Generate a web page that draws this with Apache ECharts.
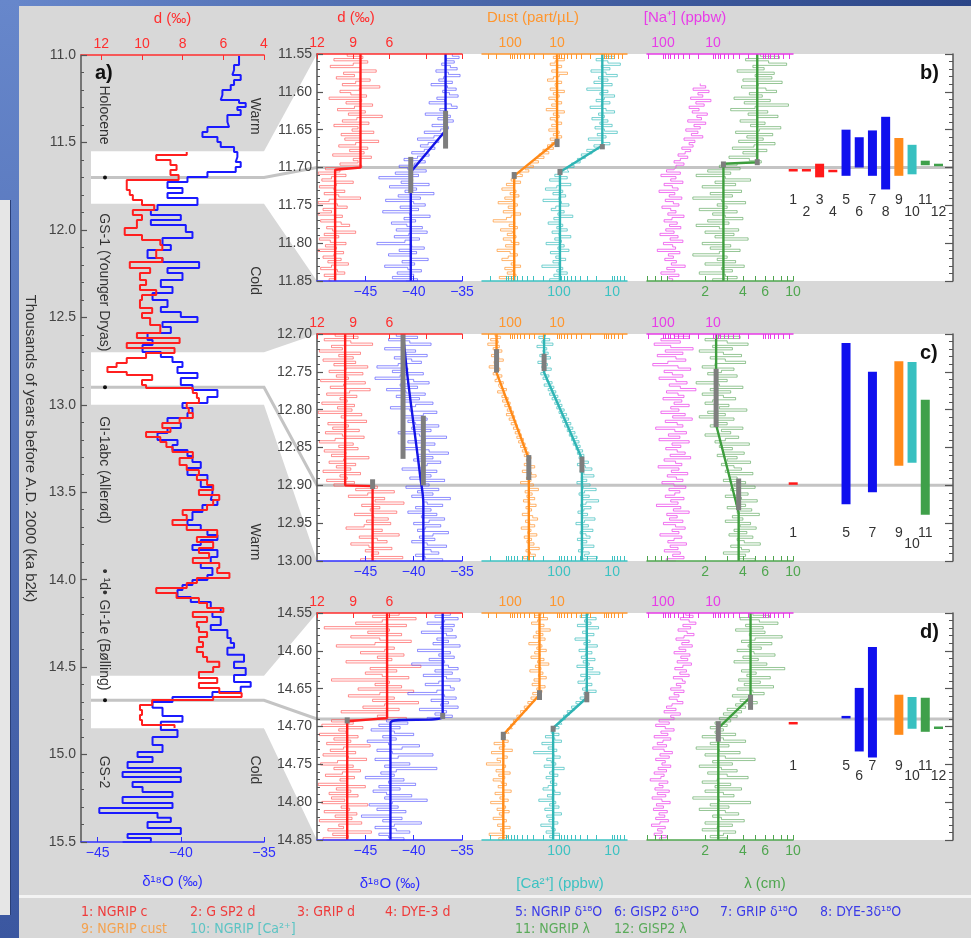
<!DOCTYPE html>
<html>
<head>
<meta charset="utf-8">
<script src="https://cdn.jsdelivr.net/npm/echarts@6/dist/echarts.min.js"></script>
<style>
  body { margin: 0; width: 971px; height: 938px; overflow: hidden; background: #3f5ca6; position: relative; }
  .blk { position: absolute; }
  #top { left: 0; top: 0; width: 971px; height: 6px; background: linear-gradient(90deg, #6787cb, #2b4587); }
  #side { left: 0; top: 0; width: 19px; height: 938px; background: linear-gradient(180deg, #6787cb, #3b57a0); }
  #strip { left: 0; top: 200px; width: 10px; height: 715px; background: #e6e6e6; border-right: 1px solid #2a3f78; }
  #panel { left: 19px; top: 6px; width: 952px; height: 932px; background: #d8d8d8; }
  #sep { left: 19px; top: 895px; width: 952px; height: 3px; background: #f3f3f3; }
  #main { position: absolute; left: 0; top: 0; width: 971px; height: 938px; }
</style>
</head>
<body>
<div class="blk" id="top"></div>
<div class="blk" id="side"></div>
<div class="blk" id="strip"></div>
<div class="blk" id="panel"></div>
<div class="blk" id="sep"></div>
<div id="main"></div>
<script>
// ---- panel a: long records, [ka b2k, value] ----
const aBlue = [[11.006,-36.5],[11.057,-36.8],[11.086,-36.9],[11.114,-36.4],[11.143,-36.8],[11.172,-37.0],[11.2,-37.5],[11.229,-37.6],[11.257,-36.5],[11.274,-36.1],[11.297,-36.6],[11.314,-36.4],[11.343,-37.2],[11.383,-37.1],[11.412,-38.4],[11.44,-38.7],[11.469,-37.8],[11.497,-37.6],[11.526,-36.8],[11.555,-36.6],[11.583,-36.7],[11.612,-36.4],[11.64,-36.7],[11.669,-38.4],[11.698,-39.6],[11.726,-40.8],[11.76,-39.9],[11.789,-40.8],[11.818,-39.0],[11.858,-41.4],[11.886,-41.8],[11.915,-40.0],[11.943,-41.8],[11.972,-39.7],[12.012,-39.3],[12.046,-41.1],[12.086,-40.6],[12.115,-42.0],[12.161,-41.1],[12.184,-38.9],[12.218,-40.8],[12.246,-39.9],[12.286,-41.2],[12.326,-40.5],[12.361,-41.7],[12.401,-40.8],[12.441,-41.2],[12.469,-40.0],[12.498,-39.0],[12.527,-41.1],[12.555,-40.6],[12.589,-42.0],[12.629,-41.7],[12.658,-42.3],[12.698,-41.2],[12.727,-40.5],[12.755,-39.9],[12.784,-40.2],[12.818,-39.0],[12.847,-40.0],[12.887,-39.3],[12.915,-37.8],[12.955,-38.4],[12.99,-39.9],[13.018,-39.3],[13.047,-39.6],[13.075,-40.8],[13.104,-40.0],[13.133,-40.8],[13.161,-41.4],[13.201,-40.2],[13.23,-40.5],[13.258,-39.6],[13.293,-39.3],[13.327,-38.8],[13.361,-39.6],[13.401,-38.4],[13.43,-38.8],[13.47,-38.1],[13.504,-38.2],[13.544,-37.8],[13.573,-38.7],[13.613,-39.3],[13.659,-39.6],[13.687,-38.8],[13.716,-38.4],[13.744,-37.8],[13.773,-38.8],[13.802,-39.3],[13.83,-37.8],[13.87,-38.2],[13.904,-38.8],[13.933,-38.1],[13.973,-38.4],[14.002,-39.3],[14.03,-39.9],[14.059,-40.2],[14.099,-39.4],[14.127,-38.2],[14.162,-37.6],[14.185,-38.1],[14.213,-37.6],[14.259,-38.2],[14.288,-37.2],[14.333,-37.0],[14.362,-36.8],[14.39,-37.2],[14.43,-36.2],[14.47,-36.8],[14.505,-36.1],[14.545,-36.8],[14.585,-35.8],[14.613,-36.4],[14.642,-38.1],[14.671,-40.5],[14.699,-41.7],[14.733,-41.1],[14.779,-39.9],[14.813,-41.2],[14.859,-40.2],[14.899,-41.7],[14.945,-41.1],[14.985,-42.6],[15.014,-41.7],[15.042,-43.2],[15.077,-40.0],[15.1,-43.5],[15.128,-40.0],[15.157,-42.9],[15.185,-42.3],[15.214,-40.5],[15.242,-43.5],[15.277,-40.5],[15.305,-44.9],[15.334,-41.4],[15.362,-40.6],[15.385,-42.0],[15.42,-40.0],[15.454,-43.2],[15.477,-41.8],[15.5,-43.5]];
const aRed = [[11.555,7.8],[11.572,9.3],[11.6,8.6],[11.629,8.3],[11.658,8.6],[11.686,8.2],[11.715,10.75],[11.772,10.6],[11.8,10.45],[11.829,10.0],[11.858,9.4],[11.886,10.45],[11.915,10.0],[11.943,10.25],[11.989,10.85],[12.029,10.0],[12.058,9.1],[12.086,9.0],[12.115,9.3],[12.161,9.0],[12.184,10.6],[12.218,9.6],[12.246,10.1],[12.286,9.8],[12.315,10.1],[12.344,9.3],[12.372,10.0],[12.401,10.1],[12.447,9.5],[12.475,10.0],[12.504,9.6],[12.544,9.1],[12.589,10.25],[12.618,8.15],[12.647,10.75],[12.675,8.4],[12.704,9.8],[12.732,10.75],[12.761,11.25],[12.784,11.7],[12.812,10.75],[12.83,9.5],[12.858,10.0],[12.887,9.8],[12.904,7.5],[12.933,7.3],[12.961,7.2],[12.99,7.8],[13.018,7.7],[13.047,7.5],[13.075,8.15],[13.104,9.0],[13.133,8.6],[13.156,9.8],[13.184,9.1],[13.213,8.8],[13.241,8.5],[13.27,7.5],[13.304,8.15],[13.344,7.8],[13.373,7.2],[13.401,7.3],[13.43,6.8],[13.459,6.5],[13.487,7.2],[13.516,6.2],[13.544,6.5],[13.573,6.8],[13.602,8.0],[13.63,7.8],[13.659,8.5],[13.687,7.8],[13.716,6.3],[13.756,7.3],[13.784,6.5],[13.819,7.2],[13.847,6.7],[13.876,7.5],[13.904,6.2],[13.933,6.3],[13.962,5.7],[13.99,7.3],[14.019,7.8],[14.047,9.3],[14.076,8.3],[14.105,7.2],[14.133,6.8],[14.162,6.0],[14.185,7.5],[14.213,6.8],[14.242,7.3],[14.27,7.2],[14.299,6.8],[14.328,7.2],[14.356,7.0],[14.385,7.3],[14.413,7.0],[14.442,6.8],[14.47,6.2],[14.499,6.5],[14.528,7.2],[14.562,6.3],[14.591,7.2],[14.619,6.2],[14.648,5.1],[14.671,6.5],[14.688,9.5],[14.716,10.1],[14.745,10.0],[14.774,10.1],[14.802,10.0],[14.831,8.4],[14.848,8.4]];

// ---- panels b, c, d: time offsets of the samples from each panel's top ----
const tOff = [0,0.003,0.006,0.009,0.012,0.015,0.018,0.021,0.024,0.027,
  0.03,0.033,0.036,0.039,0.042,0.045,0.048,0.051,0.054,0.057,
  0.06,0.063,0.066,0.069,0.072,0.075,0.078,0.081,0.084,0.087,
  0.09,0.093,0.096,0.099,0.102,0.105,0.108,0.111,0.114,0.117,
  0.12,0.123,0.126,0.129,0.132,0.135,0.138,0.141,0.144,0.147,
  0.15,0.153,0.156,0.159,0.162,0.165,0.168,0.171,0.174,0.177,
  0.18,0.183,0.186,0.189,0.192,0.195,0.198,0.201,0.204,0.207,
  0.21,0.213,0.216,0.219,0.222,0.225,0.228,0.231,0.234,0.237,
  0.24,0.243,0.246,0.249,0.252,0.255,0.258,0.261,0.264,0.267,
  0.27,0.273,0.276,0.279,0.282,0.285,0.288,0.291,0.294,0.297,0.3];
const panelStart = [11.55, 12.70, 14.55];
const panelEnd = [11.85, 13.00, 14.85];
const transT = [11.70, 12.90, 14.69];

// panel b
const bD = [9.5,8.2,10.6,7.8,9.0,10.9,8.4,7.1,9.8,8.9, 10.4,7.6,8.8,9.9,6.8,8.5,10.1,9.2,7.9,11.0, 8.3,9.6,7.4,8.9,10.3,8.0,9.4,6.6,8.7,9.9, 7.7,10.6,8.6,9.1,7.3,10.0,8.4,9.7,6.9,8.8, 10.2,7.8,9.3,8.1,10.7,7.5,9.0,8.6,10.1,8.3,
  11.3,10.1,11.9,9.6,10.8,11.6,9.0,10.4,11.8,10.6, 9.7,11.4,10.2,8.4,11.0,11.9,10.3,9.5,11.5,10.8, 11.9,9.9,10.5,11.7,10.0,9.3,11.2,10.7,8.8,11.4, 10.2,11.8,10.9,9.6,11.3,10.4,11.9,9.8,10.6,11.5, 10.0,11.1,9.4,10.8,11.7,10.3,9.7,11.4,10.5,11.0, 10.8];
const bO = [-36.0,-35.3,-36.6,-35.8,-37.1,-36.2,-35.5,-37.7,-36.4,-35.2, -36.9,-37.4,-36.0,-38.2,-36.5,-35.6,-37.0,-36.3,-35.4,-37.6, -36.8,-38.4,-36.1,-35.5,-37.3,-36.6,-38.8,-36.2,-37.5,-35.9, -36.9,-38.1,-36.4,-37.2,-38.9,-36.8,-37.9,-39.6,-37.4,-38.5, -39.3,-37.8,-38.9,-40.2,-38.4,-39.6,-41.0,-38.8,-39.9,-41.5,
  -40.6,-38.7,-41.9,-39.5,-43.6,-40.1,-41.3,-38.4,-42.5,-39.7, -40.9,-37.9,-41.6,-39.3,-42.9,-40.0,-38.8,-41.4,-39.5,-43.2, -40.4,-38.3,-41.0,-39.8,-42.3,-40.7,-39.1,-41.8,-38.6,-40.5, -42.0,-39.4,-40.9,-43.8,-40.2,-38.9,-41.5,-39.7,-42.6,-40.3, -38.5,-41.2,-39.9,-43.0,-40.6,-39.2,-41.7,-40.0,-42.2,-39.6, -40.8];
const bDust = [9,12,7,11,14,8,10,13,6,9, 12,16,8,11,10,14,7,12,9,15, 11,8,13,10,17,7,12,9,14,11, 8,13,10,15,9,12,8,14,11,13, 16,12,20,15,24,19,30,25,38,32,
  48,40,62,55,75,95,60,120,85,150, 75,100,65,130,90,180,70,110,85,140, 60,95,120,230,80,105,70,160,90,115, 75,140,95,65,125,85,190,100,70,110, 150,80,95,60,130,90,115,75,170,85, 100];
const bCa = [14,9,20,12,7,16,11,25,13,8, 18,12,22,10,15,30,12,17,9,14, 20,11,16,26,13,9,18,14,24,12, 17,10,21,14,8,19,13,28,15,11, 22,18,30,24,38,32,45,40,58,52,
  70,65,88,120,70,150,95,60,110,180, 85,130,75,100,200,90,65,115,140,80, 105,55,125,95,160,85,110,70,135,100, 60,120,90,175,80,105,65,145,95,115, 75,130,100,210,85,110,70,125,90,150, 95];
const bNa = [null,null,null,null,null,null,null,null,null,null, null,null,null,18,14,25,12,20,16,28, 11,22,15,30,19,26,13,21,17,32, 14,24,18,35,20,27,16,38,23,30, 25,42,28,36,50,32,45,60,38,55,
  60,85,45,110,55,70,40,95,65,50, 120,58,75,42,90,62,48,105,70,55, 80,38,66,95,52,74,44,88,60,115, 50,72,40,98,64,56,130,46,78,62, 92,54,68,36,84,58,110,48,76,64, 70];
const bLam = [5.5,7.8,4.2,6.4,8.9,4.8,5.9,3.6,7.1,5.0, 6.8,4.0,8.2,5.3,3.9,6.1,7.4,4.5,5.7,3.4, 6.6,4.1,9.2,5.0,3.2,6.3,4.4,7.6,5.2,3.8, 6.0,4.6,8.0,5.4,3.5,6.9,4.3,5.8,3.7,7.2, 4.9,3.3,6.2,4.0,5.1,3.1,4.5,5.6,3.6,2.6,
  3.8,2.1,3.2,1.7,2.9,4.6,2.4,3.5,1.9,2.8, 3.9,2.2,3.3,1.6,2.7,4.2,2.5,3.0,1.8,3.6, 2.3,2.9,4.0,2.1,3.1,1.7,2.6,3.7,2.0,3.4, 2.4,4.4,2.8,1.9,3.2,2.2,3.8,2.6,1.6,3.0, 2.5,3.5,2.0,4.1,2.7,3.3,1.8,2.9,3.6,2.3, 2.8];
// panel c
const cD = [10.5,8.6,11.4,9.2,7.4,10.8,9.9,11.8,8.4,10.2, 9.0,11.5,8.8,10.6,7.8,9.6,11.0,8.2,10.4,9.4, 11.7,8.0,9.8,10.9,7.6,9.3,11.2,8.7,10.1,9.5, 11.6,8.9,10.3,9.1,11.9,8.3,10.0,9.7,7.9,11.1, 9.4,10.7,8.5,11.3,9.9,8.1,10.5,11.8,9.0,10.2,
  8.6,11.4,9.6,10.8,7.7,9.8,11.0,8.8,10.4,9.2, 11.5,8.4,10.1,9.5,11.2,8.9,10.6,7.0,8.8,5.6, 7.8,9.4,6.4,7.2,4.8,8.3,6.8,7.6,5.4,8.9, 7.3,6.1,7.9,5.9,8.1,9.6,6.6,7.4,5.2,8.5, 7.0,6.2,9.2,7.7,5.8,8.0,6.9,7.5,4.9,8.4, 7.1];
const cO = [-41.8,-39.6,-42.6,-40.4,-38.2,-41.2,-43.0,-39.8,-40.8,-38.6, -42.0,-40.2,-39.2,-41.6,-43.8,-40.6,-42.2,-39.0,-41.4,-44.0, -40.0,-38.4,-41.4,-39.6,-42.8,-40.8,-38.8,-41.8,-39.4,-41.0, -38.0,-39.8,-42.4,-40.4,-37.6,-39.0,-41.2,-38.6,-40.6,-39.8, -37.4,-40.2,-38.2,-41.6,-39.4,-36.6,-38.8,-40.6,-37.8,-39.2,
  -41.0,-38.4,-36.4,-39.6,-38.0,-40.0,-37.2,-38.6,-39.2,-41.2, -37.6,-39.4,-38.2,-40.4,-36.8,-39.0,-38.4,-40.8,-37.4,-39.6, -38.0,-40.2,-36.2,-39.0,-38.6,-37.0,-39.8,-38.2,-40.6,-37.6, -39.2,-36.8,-38.4,-40.0,-37.2,-38.8,-39.6,-36.4,-38.0,-39.4, -37.8,-40.2,-38.6,-36.6,-39.0,-38.2,-37.4,-39.8,-38.8,-37.0, -38.6];
const cDust = [210,160,260,180,300,170,230,150,200,250, 175,140,220,190,280,165,205,230,150,190, 210,140,175,160,120,185,135,150,110,145, 100,130,95,115,85,120,80,105,75,95, 70,85,62,78,58,72,52,66,48,60,
  44,55,40,50,36,45,38,50,30,42, 55,35,28,45,36,60,32,40,25,48, 34,44,30,52,38,28,46,35,41,55, 33,26,47,38,30,58,36,42,27,50, 35,44,31,39,24,46,37,29,52,40, 36];
const cCa = [180,240,150,210,130,260,170,200,160,230, 145,195,250,165,210,140,185,220,155,200, 170,135,190,125,160,115,150,105,135,95, 120,88,110,80,100,72,92,66,85,60, 78,55,70,50,64,46,58,42,54,40,
  48,36,45,34,42,36,28,45,32,24, 40,34,22,38,30,46,26,35,20,33, 42,27,36,18,31,39,25,34,44,29, 37,21,33,48,28,36,23,40,31,26, 45,30,38,22,35,43,27,33,19,36, 32];
const cNa = [60,30,110,45,150,70,25,90,40,130, 55,35,80,160,50,28,95,65,40,120, 55,33,75,45,22,85,50,38,100,42, 60,30,70,48,110,36,64,26,90,52, 40,140,58,34,78,46,120,30,66,44,
  88,52,36,72,28,95,56,42,125,48, 68,32,82,54,40,105,60,35,76,46, 58,90,38,70,50,135,44,62,30,84, 52,74,40,98,56,36,66,48,115,42, 60,80,34,72,50,94,45,64,38,86, 55];
const cLam = [2.6,3.8,2.0,3.0,4.4,2.3,3.3,1.8,2.8,3.9, 2.2,2.9,4.2,2.4,1.9,3.4,2.7,2.1,3.6,2.5, 3.0,1.7,2.6,4.0,2.2,3.2,1.9,2.8,3.5,2.3, 2.0,3.1,2.6,4.3,2.1,2.9,1.8,3.4,2.5,3.0, 2.2,4.0,2.7,3.2,2.0,3.7,2.9,2.4,4.5,2.6,
  3.3,2.8,4.1,2.5,3.6,3.0,4.6,2.7,3.4,3.9, 2.9,4.8,3.1,3.6,2.8,4.2,3.4,5.0,3.2,3.8, 4.4,2.9,3.9,5.2,3.5,4.2,3.0,4.7,3.6,5.4, 3.3,4.0,2.9,4.6,3.8,5.1,3.4,4.3,3.1,4.8, 3.6,4.1,5.5,3.2,3.9,4.5,2.8,4.2,3.7,5.0, 4.3];
// panel d
const dD = [5.2,7.4,3.8,6.6,8.8,4.6,11.4,6.0,7.8,5.0, 9.2,6.8,4.2,7.2,10.4,5.6,6.4,8.4,4.8,7.0, 5.8,9.6,6.2,3.4,7.6,5.4,8.0,6.6,4.4,10.8, 6.0,7.2,5.0,8.6,4.0,6.8,9.4,5.6,7.4,3.6, 6.4,8.2,5.2,10.0,6.2,7.0,4.6,10.8,9.0,11.6,
  8.2,10.2,9.6,11.8,8.6,10.6,9.2,11.2,7.6,9.8, 10.9,8.8,11.5,9.4,7.9,10.3,11.7,9.0,10.6,8.4, 9.9,11.3,8.9,10.1,9.5,11.9,8.0,10.4,9.2,11.0, 8.6,10.8,9.7,11.6,7.8,10.0,9.3,11.4,8.7,10.5, 9.1,11.8,8.3,10.2,9.8,11.1,7.5,10.7,9.4,11.5, 9.6];
const dO = [-36.2,-37.8,-35.4,-36.8,-38.6,-35.8,-37.2,-36.0,-39.2,-36.6, -35.6,-37.6,-36.4,-38.0,-35.2,-37.0,-39.6,-36.2,-37.4,-35.8, -38.4,-36.8,-40.2,-36.4,-35.4,-37.8,-36.0,-39.0,-36.6,-35.2, -37.4,-38.8,-36.2,-35.8,-37.6,-40.6,-36.8,-35.6,-38.2,-36.4, -37.2,-35.4,-39.4,-36.6,-37.8,-36.0,-38.6,-42.8,-40.6,-43.6,
  -41.4,-44.4,-42.0,-40.0,-43.2,-41.8,-44.8,-42.6,-39.4,-41.2, -43.8,-42.2,-38.0,-41.6,-44.0,-42.4,-40.4,-43.0,-37.6,-41.8, -43.4,-42.0,-45.0,-41.0,-42.6,-39.8,-43.6,-41.4,-44.2,-42.8, -40.2,-43.0,-38.6,-42.2,-44.6,-41.6,-43.8,-40.8,-42.4,-45.4, -41.2,-43.2,-39.2,-42.0,-44.0,-41.8,-40.4,-43.6,-42.6,-41.0, -42.8];
const dDust = [22,30,16,26,35,19,24,14,28,20, 32,18,25,40,21,27,17,30,23,36, 19,26,15,29,22,38,20,25,17,31, 24,34,18,27,21,33,26,36,30,42, 38,50,44,60,55,72,64,85,78,98,
  90,115,105,130,125,150,110,220,130,170, 90,250,140,115,190,160,320,125,145,200, 100,175,130,230,155,120,180,140,95,210, 135,165,110,260,145,125,190,105,170,150, 230,120,140,185,100,160,135,280,115,175, 145];
const dCa = [28,40,20,33,25,45,18,30,36,22, 29,50,26,34,19,31,42,24,32,38, 21,35,27,46,23,30,17,39,26,33, 44,24,31,36,20,34,28,40,34,48, 44,58,52,70,64,82,76,95,88,110,
  100,125,140,100,180,120,90,210,130,160, 110,300,125,95,170,140,115,190,80,135, 150,105,175,125,145,110,160,200,120,95, 165,135,240,115,150,100,185,130,90,170, 125,155,105,220,140,118,175,98,150,132, 145];
const dNa = [35,25,45,30,22,40,28,50,33,24, 38,55,30,42,26,48,35,60,29,44, 32,52,27,40,58,34,46,30,62,41, 36,54,44,70,38,60,48,75,52,40, 66,85,55,95,45,70,60,120,75,140,
  90,60,110,80,150,70,100,130,85,160, 95,65,115,75,140,90,105,70,125,85, 150,95,110,180,80,120,100,145,75,130, 88,165,105,72,135,98,155,82,120,92, 140,78,115,170,90,128,104,150,86,118, 100];
const dLam = [4.8,6.5,3.8,5.4,7.6,4.2,5.8,3.5,6.0,4.5, 8.2,5.0,3.9,6.8,4.4,5.6,3.6,4.9,7.2,4.0, 5.3,3.4,6.2,4.6,8.6,3.9,5.1,4.3,6.6,3.7, 5.5,4.1,7.0,3.6,4.8,5.9,3.3,4.6,3.8,5.2, 3.5,4.2,3.0,3.9,2.8,3.6,2.6,3.2,2.4,3.0,
  2.2,2.8,2.4,3.5,1.9,2.8,4.2,2.2,3.1,1.7, 2.6,3.8,2.0,2.9,5.0,2.3,3.3,1.8,2.7,3.6, 2.1,3.0,4.4,2.5,1.9,3.2,2.4,3.9,2.0,2.8, 3.4,1.6,2.6,4.6,2.2,3.1,1.8,2.9,3.7,2.3, 2.7,4.1,2.0,3.3,2.5,1.9,3.5,2.8,2.2,3.0, 2.5];

// ramp fits, [value, ka b2k]
const bRampD = [[8.4,11.55],[8.4,11.700],[10.5,11.703],[10.5,11.85]];
const bRampO = [[-36.7,11.55],[-36.7,11.651],[-40.3,11.706],[-40.3,11.85]];
const bRampDust = [[10,11.55],[10,11.665],[82,11.711],[82,11.85]];
const bRampCa = [[15.3,11.55],[15.3,11.671],[96,11.706],[96,11.85]];
const bRampLam = [[5.2,11.55],[5.2,11.693],[2.8,11.695],[2.8,11.85]];
const cRampD = [[9.67,12.70],[9.67,12.90],[7.4,12.901],[7.4,13.00]];
const cRampO = [[-41.1,12.70],[-40.6,12.76],[-39.9,12.83],[-39.3,12.89],[-39.0,12.925],[-39.0,13.00]];
const cRampDust = [[195,12.70],[195,12.751],[40,12.865],[40,13.00]];
const cRampCa = [[191,12.70],[191,12.751],[37,12.865],[37,13.00]];
const cRampLam = [[2.45,12.70],[2.45,12.82],[3.7,12.936],[3.7,13.00]];
const dRampD = [[6.2,14.55],[6.2,14.689],[9.5,14.693],[9.5,14.85]];
const dRampO = [[-37.0,14.55],[-37.0,14.687],[-42.4,14.695],[-42.4,14.85]];
const dRampDust = [[23.7,14.55],[23.7,14.658],[140,14.711],[140,14.85]];
const dRampCa = [[30,14.55],[30,14.662],[129,14.702],[129,14.85]];
const dRampLam = [[4.6,14.55],[4.6,14.661],[2.55,14.702],[2.55,14.85]];

// uncertainty boxes at the ramp corners: [record, value, from, to]
const bBoxes = [['o',-36.7,11.625,11.675],['o',-40.3,11.686,11.734],['dust',10,11.662,11.673],['dust',82,11.706,11.715],['ca',15.3,11.669,11.676],['ca',96,11.702,11.71],['lam',5.2,11.689,11.697],['lam',2.8,11.692,11.700]];
const cBoxes = [['o',-41.1,12.70,12.865],['o',-39.0,12.808,12.90],['d',7.4,12.892,12.905],['dust',195,12.72,12.751],['dust',40,12.86,12.893],['ca',191,12.726,12.749],['ca',37,12.862,12.883],['lam',2.45,12.746,12.823],['lam',3.7,12.891,12.933]];
const dBoxes = [['d',9.5,14.688,14.696],['o',-37.0,14.682,14.690],['dust',23.7,14.652,14.665],['dust',140,14.707,14.718],['ca',30,14.654,14.668],['ca',129,14.699,14.707],['lam',4.6,14.658,14.678],['lam',2.55,14.693,14.72]];

// transition duration bars, by record number 1..12
const bBarIdx = [1,2,3,4,5,6,7,8,9,10,11,12];
const bBarT1 = [11.702,11.702,11.695,11.703,11.650,11.660,11.651,11.633,11.661,11.670,11.691,11.695];
const bBarT2 = [11.704,11.704,11.713,11.705,11.711,11.700,11.711,11.729,11.711,11.709,11.697,11.696];
const cBarIdx = [1,5,7,9,10,11];
const cBarT1 = [12.896,12.712,12.750,12.736,12.737,12.787];
const cBarT2 = [12.899,12.925,12.909,12.874,12.870,12.939];
const dBarIdx = [1,5,6,7,9,10,11,12];
const dBarT1 = [14.694,14.686,14.649,14.595,14.658,14.661,14.662,14.700];
const dBarT2 = [14.696,14.688,14.733,14.741,14.711,14.703,14.707,14.702];
const barLabelT = [[11.743,11.759],[12.963,12.978],[14.753,14.766]];

// labels
const periodNames = ['Holocene','GS-1 (Younger Dryas)','GI-1abc (Allerød)','• ¹d•','GI-1e (Bølling)','GS-2'];
const periodT = [11.343,12.30,13.373,14.013,14.373,15.10];
const climNames = ['Warm','Cold','Warm','Cold'];
const climT = [11.35,12.29,13.784,15.088];
const legendNames = ['1: NGRIP c','2: G SP2 d','3: GRIP d','4: DYE-3 d','5: NGRIP δ¹⁸O','6: GISP2 δ¹⁸O','7: GRIP δ¹⁸O','8: DYE-3δ¹⁸O','9: NGRIP cust','10: NGRIP [Ca²⁺]','11: NGRIP λ','12: GISP2 λ'];

const FONT = "'Liberation Sans', Arial, sans-serif";
const NARROW = "'Liberation Sans Narrow', 'DejaVu Sans Condensed', 'Liberation Sans', sans-serif";
const RED = '#ff2e2e', BLUE = '#2f2fff', ORANGE = '#ff962e', CYAN = '#3cc2c2', MAG = '#e83ce8', GREEN = '#4fa64f';
const traceCol = {d: 'rgba(255,70,70,0.6)', o: 'rgba(70,70,255,0.6)', dust: 'rgba(255,150,50,0.7)', ca: 'rgba(60,190,190,0.7)', na: 'rgba(235,70,235,0.75)', lam: 'rgba(80,160,80,0.6)'};
const rampCol = {d: '#ff1c1c', o: '#1414e6', dust: '#ff8a18', ca: '#2fb4b4', lam: '#3d9d3d'};
const isLog = {dust: true, ca: true, na: true, lam: true};
const barCol = ['#ff1a1a','#ff1a1a','#ff1a1a','#ff1a1a','#1010ee','#1010ee','#1010ee','#1010ee','#ff8a1a','#38c0c0','#3fa04a','#3fa04a'];

const panels = [
  {tr: {d: bD, o: bO, dust: bDust, ca: bCa, na: bNa, lam: bLam}, ramp: {d: bRampD, o: bRampO, dust: bRampDust, ca: bRampCa, lam: bRampLam}, boxes: bBoxes, bars: [bBarIdx, bBarT1, bBarT2], top: 54, smoothO: false},
  {tr: {d: cD, o: cO, dust: cDust, ca: cCa, na: cNa, lam: cLam}, ramp: {d: cRampD, o: cRampO, dust: cRampDust, ca: cRampCa, lam: cRampLam}, boxes: cBoxes, bars: [cBarIdx, cBarT1, cBarT2], top: 334, smoothO: true},
  {tr: {d: dD, o: dO, dust: dDust, ca: dCa, na: dNa, lam: dLam}, ramp: {d: dRampD, o: dRampO, dust: dRampDust, ca: dRampCa, lam: dRampLam}, boxes: dBoxes, bars: [dBarIdx, dBarT1, dBarT2], top: 613, smoothO: true}
];

const grid = [], xAxis = [], yAxis = [], series = [];
function addGrid(left, top, width, height) { grid.push({left, top, width, height, containLabel: false, outerBoundsMode: 'none'}); return grid.length - 1; }
function addX(o) { xAxis.push(o); return xAxis.length - 1; }
function addY(o) { yAxis.push(o); return yAxis.length - 1; }
function xf(key, v) { return isLog[key] ? Math.log10(v) : v; }
function logTicks(lo, hi) {
  const out = [];
  for (let n = -2; n <= 4; n++) for (let k = 1; k <= 9; k++) {
    const v = Math.log10(k * Math.pow(10, n));
    if (v >= lo - 1e-9 && v <= hi + 1e-9) out.push(v);
  }
  return out;
}
const minus = v => String(v).replace('-', '\u2212');
const pow10 = v => String(Math.round(Math.pow(10, v)));
function valAxis(gridIndex, position, min, max, inverse, color, ticks, labels, fmt) {
  return {
    type: 'value', gridIndex, position, min, max, inverse, z: 6,
    axisLine: {show: true, onZero: false, lineStyle: {color, width: 1.5}},
    axisTick: {show: true, inside: true, length: 5, customValues: ticks, lineStyle: {color, width: 1}},
    axisLabel: {show: true, customValues: labels, formatter: fmt, color, fontSize: 14, fontFamily: FONT, margin: 4},
    splitLine: {show: false}
  };
}
function timeAxis(gridIndex, min, max, interval, position, labels, fmt, tickLen) {
  return {
    type: 'value', gridIndex, min, max, interval, inverse: true, position, z: 6,
    axisLine: {show: true, onZero: false, lineStyle: {color: '#555', width: 1.5}},
    axisTick: {show: true, inside: true, length: tickLen, lineStyle: {color: '#555', width: 1.2}},
    minorTick: {show: true, splitNumber: 5, length: tickLen / 2, lineStyle: {color: '#555', width: 1}},
    axisLabel: {show: labels, formatter: fmt, color: '#444', fontSize: 14, fontFamily: FONT, margin: 5},
    splitLine: {show: false}, minorSplitLine: {show: false}
  };
}

// ---- panel a ----
const gA = addGrid(81, 55, 183, 787);
const yA = addY(Object.assign(timeAxis(gA, 11, 15.5, 0.5, 'left', true, v => v.toFixed(1), 6), {
  name: 'Thousands of years before A.D. 2000 (ka b2k)', nameLocation: 'middle', nameRotate: -90, nameGap: 43,
  nameTextStyle: {fontSize: 15, color: '#333', fontFamily: FONT}
}));
const xAd = addX(Object.assign(valAxis(gA, 'top', 4, 13, true, RED, [4,6,8,10,12], [4,6,8,10,12], v => String(v)), {
  name: 'd (‰)', nameLocation: 'middle', nameGap: 29, nameTextStyle: {color: RED, fontSize: 15, fontFamily: FONT}
}));
const xAo = addX(Object.assign(valAxis(gA, 'bottom', -46, -35, false, BLUE, [-45,-40,-35], [-45,-40,-35], minus), {
  name: 'δ¹⁸O (‰)', nameLocation: 'middle', nameGap: 32, nameTextStyle: {color: BLUE, fontSize: 15, fontFamily: FONT}
}));
series.push({type: 'line', xAxisIndex: xAo, yAxisIndex: yA, data: aBlue.map(p => [p[1], p[0]]), step: 'start', showSymbol: false, symbol: 'none', lineStyle: {color: '#1a1aff', width: 2}, z: 3});
series.push({type: 'line', xAxisIndex: xAd, yAxisIndex: yA, data: aRed.map(p => [p[1], p[0]]), step: 'start', showSymbol: false, symbol: 'none', lineStyle: {color: '#ff1f1f', width: 2}, z: 4});

// ---- panels b, c, d ----
const colLeft = [317, 482, 647], colW = [145, 145, 146];
const panelY = [];
panels.forEach((P, p) => {
  const s = panelStart[p], e = panelEnd[p];
  const g = colLeft.map((l, c) => addGrid(l, P.top, colW[c], 227));
  const yi = g.map((gi, c) => c === 0
    ? addY(timeAxis(gi, s, e, 0.05, 'left', true, v => v.toFixed(2), 6))
    : addY({type: 'value', gridIndex: gi, min: s, max: e, inverse: true, show: false}));
  panelY.push(yi[0]);
  const gb = addGrid(780, P.top, 173, 227);
  const yb = addY(timeAxis(gb, s, e, 0.05, 'right', false, v => v, 8));
  const xb = addX({type: 'value', gridIndex: gb, min: 0, max: 13.1, show: false});
  const ax = {
    d: addX(valAxis(g[0], 'top', 0, 12, true, RED, [12,9,6,3,0], [12,9,6], v => String(v))),
    o: addX(valAxis(g[0], 'bottom', -50, -35, false, BLUE, [-45,-40,-35], [-45,-40,-35], minus)),
    dust: addX(valAxis(g[1], 'top', -0.49, 2.6, true, ORANGE, logTicks(-0.49, 2.6), [2,1], pow10)),
    ca: addX(valAxis(g[1], 'bottom', 0.72, 3.45, true, CYAN, logTicks(0.72, 3.45), [2,1], pow10)),
    na: addX(valAxis(g[2], 'top', -0.6, 2.32, true, MAG, logTicks(-0.6, 2.32), [2,1], pow10)),
    lam: addX(valAxis(g[2], 'bottom', -0.16, 1.0, false, GREEN, logTicks(-0.16, 1.0), [Math.log10(2), Math.log10(4), Math.log10(6), 1], pow10))
  };
  const col = {d: 0, o: 0, dust: 1, ca: 1, na: 2, lam: 2};
  // thin records
  Object.keys(P.tr).forEach(k => {
    const vals = P.tr[k], data = [];
    for (let i = 0; i < Math.min(vals.length, tOff.length); i++) {
      if (vals[i] != null) data.push([xf(k, vals[i]), s + tOff[i]]);
    }
    series.push({type: 'line', xAxisIndex: ax[k], yAxisIndex: yi[col[k]], data, step: 'start', showSymbol: false, symbol: 'none',
      lineStyle: {color: traceCol[k], width: 1}, z: 2});
  });
  // ramp fits
  Object.keys(P.ramp).forEach(k => {
    series.push({type: 'line', xAxisIndex: ax[k], yAxisIndex: yi[col[k]], data: P.ramp[k].map(q => [xf(k, q[0]), q[1]]),
      smooth: (k === 'o' && P.smoothO) ? 0.4 : false, showSymbol: false, symbol: 'none',
      lineStyle: {color: rampCol[k], width: 2.4}, z: 4});
  });
  // uncertainty boxes
  P.boxes.forEach(b => {
    const k = b[0];
    series.push({type: 'custom', xAxisIndex: ax[k], yAxisIndex: yi[col[k]], data: [[xf(k, b[1]), b[2], b[3]]], z: 5,
      renderItem: (params, api) => {
        const p1 = api.coord([api.value(0), api.value(1)]), p2 = api.coord([api.value(0), api.value(2)]);
        const y0 = Math.min(p1[1], p2[1]), h = Math.max(Math.abs(p2[1] - p1[1]), 4);
        return {type: 'rect', shape: {x: p1[0] - 2.5, y: y0, width: 5, height: h}, style: {fill: '#7e7e7e'}};
      }});
  });
  // transition bars
  const [bi, b1, b2] = P.bars;
  series.push({type: 'custom', xAxisIndex: xb, yAxisIndex: yb, data: bi.map((n, i) => [n, b1[i], b2[i]]), z: 5,
    renderItem: (params, api) => {
      const n = api.value(0);
      const p1 = api.coord([n, api.value(1)]), p2 = api.coord([n, api.value(2)]);
      const h = Math.max(Math.abs(p2[1] - p1[1]), 2.5);
      return {type: 'rect', shape: {x: p1[0] - 4.5, y: Math.min(p1[1], p2[1]), width: 9, height: h}, style: {fill: barCol[n - 1]}};
    }});
  series.push({type: 'custom', xAxisIndex: xb, yAxisIndex: yb, data: bi.map(n => [n, barLabelT[p][(n + 1) % 2]]), z: 5,
    renderItem: (params, api) => {
      const pt = api.coord([api.value(0), api.value(1)]);
      return {type: 'text', x: pt[0], y: pt[1], style: {text: String(api.value(0)), fill: '#333', font: '14px ' + FONT, align: 'center', verticalAlign: 'middle'}};
    }});
});

const chart = echarts.init(document.getElementById('main'), null, {renderer: 'canvas', width: 971, height: 938});
chart.setOption({animation: false, backgroundColor: 'transparent', grid, xAxis, yAxis, series});

// ---- decorations tied to the time axes ----
const ya = t => chart.convertToPixel({yAxisIndex: yA}, t);
const yp = (p, t) => chart.convertToPixel({yAxisIndex: panelY[p]}, t);
const gfx = [];
const bandL = 91, bandR = 264, panL = 317, panR = 953;
for (let p = 0; p < 3; p++) {
  const a1 = ya(panelStart[p]), a2 = ya(panelEnd[p]);
  const p1 = yp(p, panelStart[p]), p2 = yp(p, panelEnd[p]);
  gfx.push({type: 'rect', z: -5, silent: true, shape: {x: bandL, y: a1, width: bandR - bandL, height: a2 - a1}, style: {fill: '#fff'}});
  gfx.push({type: 'polygon', z: -5, silent: true, shape: {points: [[bandR, a1], [panL, p1], [panL, p2], [bandR, a2]]}, style: {fill: '#fff'}});
  gfx.push({type: 'rect', z: -5, silent: true, shape: {x: panL, y: p1, width: panR - panL, height: p2 - p1}, style: {fill: '#fff'}});
  const at = ya(transT[p]), pt = yp(p, transT[p]);
  gfx.push({type: 'polyline', z: 1, silent: true, shape: {points: [[bandL, at], [bandR, at], [panL, pt], [panR, pt]]}, style: {stroke: '#c4c4c4', lineWidth: 3, fill: null}});
  gfx.push({type: 'circle', z: 10, silent: true, shape: {cx: 105, cy: at, r: 2}, style: {fill: '#111'}});
}
const txt = (text, x, y, color, size, opt) => Object.assign({type: 'text', z: 10, silent: true, x, y,
  style: {text, fill: color, font: size + 'px ' + FONT, align: 'center', verticalAlign: 'middle'}}, opt || {});
periodNames.forEach((n, i) => gfx.push(txt(n, 104, ya(periodT[i]), '#333', 14, {rotation: -Math.PI / 2})));
climNames.forEach((n, i) => gfx.push(txt(n, 255, ya(climT[i]), '#333', 14, {rotation: -Math.PI / 2})));
gfx.push({type: 'text', z: 10, x: 95, y: 73, style: {text: 'a)', fill: '#111', font: 'bold 20px ' + FONT, verticalAlign: 'middle'}});
['b)', 'c)', 'd)'].forEach((l, p) => gfx.push({type: 'text', z: 10, x: 920, y: panels[p].top + 19, style: {text: l, fill: '#111', font: 'bold 20px ' + FONT, verticalAlign: 'middle'}}));
gfx.push(txt('d (‰)', 356, 18, RED, 15));
gfx.push(txt('Dust (part/µL)', 533, 18, ORANGE, 15));
gfx.push(txt('[Na⁺] (ppbw)', 685, 18, MAG, 15));
gfx.push(txt('δ¹⁸O (‰)', 390, 884, BLUE, 15));
gfx.push(txt('[Ca²⁺] (ppbw)', 560, 884, CYAN, 15));
gfx.push(txt('λ (cm)', 765, 884, GREEN, 15));
const legX = [81, 190, 297, 385, 515, 614, 720, 820, 81, 190, 515, 614];
const legY = [912, 912, 912, 912, 912, 912, 912, 912, 929, 929, 929, 929];
const legC = ['#ef3b3b','#ef3b3b','#ef3b3b','#ef3b3b','#3b3be8','#3b3be8','#3b3be8','#3b3be8','#f4a24f','#5cc4c4','#5aaa5a','#5aaa5a'];
legendNames.forEach((n, i) => gfx.push({type: 'text', z: 10, x: legX[i], y: legY[i], style: {text: n, fill: legC[i], font: '14px ' + NARROW, verticalAlign: 'middle'}}));
chart.setOption({graphic: {elements: gfx}});
</script>
</body>
</html>
